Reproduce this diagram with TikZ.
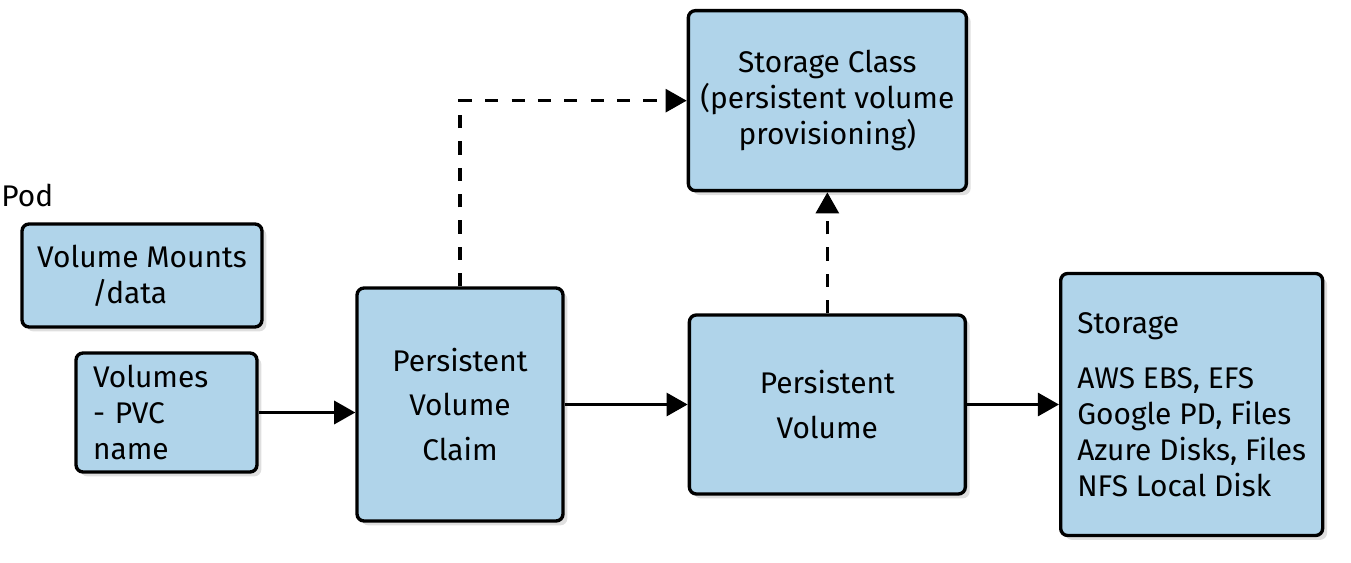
\documentclass[tikz,border=0pt]{standalone}
\usepackage{fontspec}
\setmainfont{Fira Sans}
\usetikzlibrary{arrows.meta, positioning, shadows}

\definecolor{boxblue}{RGB}{176,212,234}

\begin{document}
\begin{tikzpicture}[
  font=\fontsize{17}{20.4}\selectfont,
  box/.style={draw, line width=1.9pt, rounded corners=4pt, fill=boxblue,
              drop shadow={opacity=0.25, shadow xshift=2.5pt, shadow yshift=-2.5pt},
              align=center},
  arr/.style={-{Triangle[length=12pt, width=13pt]}, line width=2pt},
  darr/.style={arr, dash pattern=on 7.5pt off 7.5pt}
]
  \useasboundingbox (0,0) rectangle (27.02,-11.26);

  \node[anchor=west, inner sep=0pt] (pod) at (0.02,-3.9) {Pod};

  \node[box, minimum width=4.8cm, minimum height=2.06cm, align=left] (mnt)
    at (2.84,-5.51) {Volume Mounts\\\hspace*{1.1cm}/data};

  \node[box, minimum width=3.62cm, minimum height=2.38cm, align=left,
        text width=2.94cm, inner xsep=0.34cm] (vol)
    at (3.33,-8.25) {Volumes\\- PVC\\name};

  \node[box, minimum width=4.12cm, minimum height=4.66cm] (pvc)
    at (9.2,-8.09) {Persistent\\[5pt]Volume\\[5pt]Claim};

  \node[box, minimum width=5.52cm, minimum height=3.58cm, right=2.46cm of pvc] (pv)
    {Persistent\\[5pt]Volume};

  \node[box, minimum width=5.56cm, minimum height=3.6cm, above=2.42cm of pv] (sc)
    {Storage Class\\(persistent volume\\provisioning)};

  \node[box, minimum width=5.24cm, minimum height=5.24cm, align=left,
        right=1.84cm of pv] (stor)
    {Storage\\[11pt]AWS EBS, EFS\\Google PD, Files\\Azure Disks, Files\\NFS Local Disk};

  \draw[arr] (vol.east) -- (vol.east -| pvc.west);
  \draw[arr] (pvc.east) -- (pv.west);
  \draw[arr] (pv.east) -- (pv.east -| stor.west);

  \draw[darr] (pv.north) -- (sc.south);
  \draw[darr] (pvc.north) |- (sc.west);
\end{tikzpicture}
\end{document}
